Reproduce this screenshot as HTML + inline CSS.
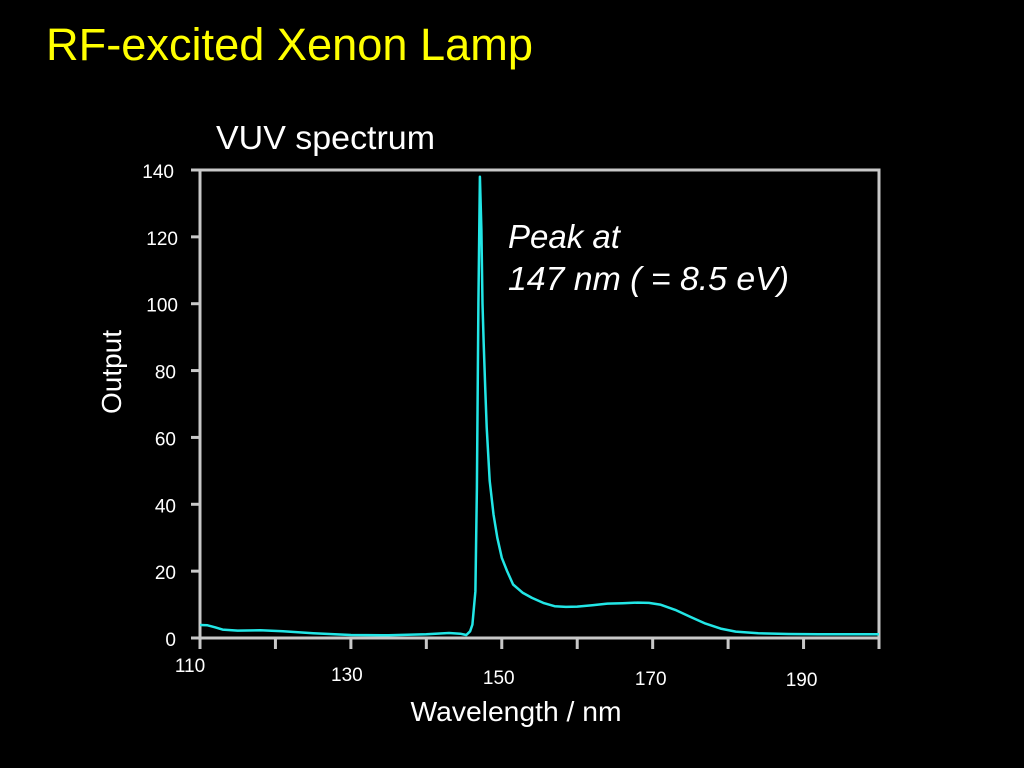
<!DOCTYPE html>
<html><head><meta charset="utf-8"><style>
html,body{margin:0;padding:0;background:#000;width:1024px;height:768px;overflow:hidden}
text{font-family:"Liberation Sans",Arial,sans-serif}
</style></head><body>
<svg id="chart" width="1024" height="768" viewBox="0 0 1024 768" xmlns="http://www.w3.org/2000/svg">
<rect width="1024" height="768" fill="#000"/>
<text x="46" y="60" fill="#ffff00" font-size="45" textLength="487" lengthAdjust="spacingAndGlyphs">RF-excited Xenon Lamp</text>
<text x="216" y="149" fill="#fff" font-size="33" textLength="219" lengthAdjust="spacingAndGlyphs">VUV spectrum</text>
<text x="508" y="248" fill="#fff" font-size="33" font-style="italic">Peak at</text>
<text x="508" y="290" fill="#fff" font-size="33" font-style="italic" textLength="281" lengthAdjust="spacingAndGlyphs">147 nm ( = 8.5 eV)</text>
<text transform="translate(121,372) rotate(-90)" text-anchor="middle" fill="#fff" font-size="28">Output</text>
<text x="516" y="721" text-anchor="middle" fill="#fff" font-size="28" textLength="211" lengthAdjust="spacingAndGlyphs">Wavelength / nm</text>
<rect x="200" y="170" width="679" height="468" fill="none" stroke="#c8c8c8" stroke-width="3"/>
<g id="axes"></g>
<path id="series" fill="none" stroke="#22e6e6" stroke-width="2.5" stroke-linejoin="round"/>
</svg>
<script>
const wavelengths=[110,111,112,113,115,118,121,125,130,135,140,143,144.5,145.3,145.8,146.1,146.3,146.5,146.7,146.9,147.1,147.3,147.45,147.6,147.8,148.0,148.4,148.9,149.4,150.0,150.7,151.5,152.8,154,155.5,157,158.5,160,162,164,166,168,169.5,171,173,175,177,179,181,184,188,192,196,200];
const outputs=[3.9,3.8,3.2,2.5,2.2,2.3,2.0,1.4,0.9,0.8,1.1,1.5,1.3,0.9,2,4,9,14,45,100,138,122,100,88,75,63,47,37,30,24,20,16,13.5,12,10.5,9.5,9.3,9.4,9.8,10.3,10.4,10.6,10.5,10,8.4,6.3,4.3,2.8,1.9,1.4,1.2,1.1,1.1,1.1];
const yTicks=[0,20,40,60,80,100,120,140];
const xTickVals=[110,120,130,140,150,160,170,180,190,200];
const xLabelVals=[110,130,150,170,190];
const X0=200,X1=879,Y0=638,Y1=170;
function sx(w){return X0+(w-110)/(200-110)*(X1-X0);}
function sy(v){return Y0-(v/140)*(Y0-Y1);}
const NS="http://www.w3.org/2000/svg";
const axes=document.getElementById('axes');
const xLabelDy=[34,43,46,47,48];
const xLabelDx=[-10,-4,-3,-2,-2];
yTicks.forEach(v=>{
  const t=document.createElementNS(NS,'line');
  
  
  t.setAttribute('x1',191);t.setAttribute('x2',200);t.setAttribute('y1',sy(v));t.setAttribute('y2',sy(v));
  t.setAttribute('stroke','#c8c8c8');t.setAttribute('stroke-width',3);
  axes.appendChild(t);
  const l=document.createElementNS(NS,'text');
  
  
  l.setAttribute('x',v===140?174:(v>=100?178:176));l.setAttribute('y',sy(v)+8);
  l.setAttribute('text-anchor','end');l.setAttribute('fill','#fff');l.setAttribute('font-size','19');
  l.textContent=v;axes.appendChild(l);
});
xTickVals.forEach(v=>{
  const t=document.createElementNS(NS,'line');
  
  
  t.setAttribute('x1',sx(v));t.setAttribute('x2',sx(v));t.setAttribute('y1',638);t.setAttribute('y2',649);
  t.setAttribute('stroke','#c8c8c8');t.setAttribute('stroke-width',3);
  axes.appendChild(t);
});
xLabelVals.forEach((v,i)=>{
  const l=document.createElementNS(NS,'text');
  
  
  l.setAttribute('x',sx(v)+xLabelDx[i]);l.setAttribute('y',Y0+xLabelDy[i]);
  l.setAttribute('text-anchor','middle');l.setAttribute('fill','#fff');l.setAttribute('font-size','19');
  l.textContent=v;axes.appendChild(l);
});
document.getElementById('series').setAttribute('d',wavelengths.map((w,i)=>(i?'L':'M')+sx(w).toFixed(1)+','+sy(outputs[i]).toFixed(1)).join(' '));
</script>
</body></html>
